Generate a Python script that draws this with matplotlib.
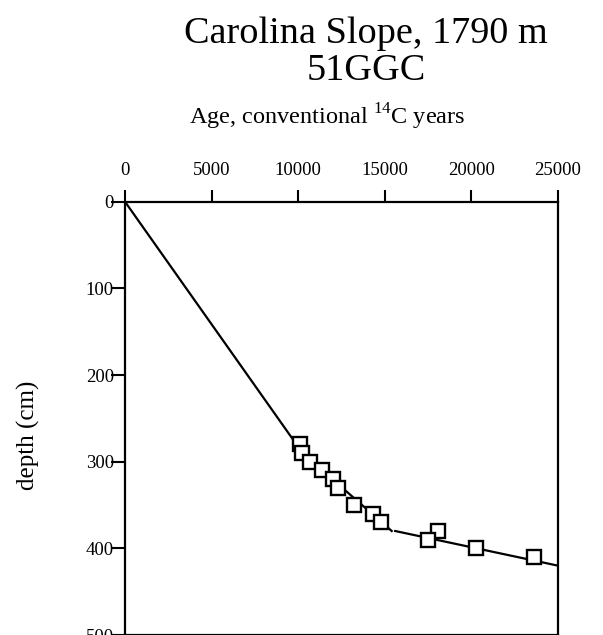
import numpy as np
import matplotlib.pyplot as plt

plt.rcParams['font.family'] = ['Liberation Serif', 'DejaVu Serif']
plt.rcParams['mathtext.fontset'] = 'custom'
plt.rcParams['mathtext.rm'] = 'Liberation Serif'

# radiocarbon ages (yr) and depths (cm) of the dated samples
age = [10100, 10200, 10700, 11350, 12000, 12300, 13200, 14300, 14800,
       18100, 17500, 20250, 23600]
depth = [280, 290, 300, 310, 320, 330, 350, 360, 370, 380, 390, 400, 410]

# age model segments
line1_age = [0, 10250, 15400]
line1_depth = [0, 290, 380]
line2_age = [15600, 25000]
line2_depth = [380, 420]

xticks = [0, 5000, 10000, 15000, 20000, 25000]
yticks = [0, 100, 200, 300, 400, 500]

W, H = 603, 635
fig = plt.figure(figsize=(W / 100, H / 100), dpi=100)
ax = fig.add_axes([125 / W, 0, 433 / W, (H - 201.7) / H])

ax.plot(line1_age, line1_depth, color='black', lw=1.6, zorder=2)
ax.plot(line2_age, line2_depth, color='black', lw=1.6, zorder=2)
ax.plot(age, depth, 's', ms=10, mfc='white', mec='black', mew=1.7,
        zorder=3, clip_on=False)

ax.set_xlim(0, 25000)
ax.set_ylim(500, 0)
ax.set_xticks(xticks)
ax.set_yticks(yticks)
ax.xaxis.tick_top()
ax.tick_params(axis='x', length=8.5, width=1.5, pad=8, labelsize=13.5)
ax.tick_params(axis='y', length=10, width=1.5, pad=-2, labelsize=13.5)
for s in ax.spines.values():
    s.set_linewidth(1.6)

fig.text(28 / W, 1 - 435 / H, 'depth (cm)', rotation=90, ha='center',
         va='center', fontsize=18)
fig.text(327 / W, 1 - 125 / H, 'Age, conventional $^{14}$C years',
         ha='center', va='baseline', fontsize=17.5)
fig.text(366 / W, 1 - 43 / H, 'Carolina Slope, 1790 m', ha='center',
         va='baseline', fontsize=27.5)
fig.text(366 / W, 1 - 80 / H, '51GGC', ha='center', va='baseline',
         fontsize=27.5)

fig.savefig('out.png', dpi=100)
